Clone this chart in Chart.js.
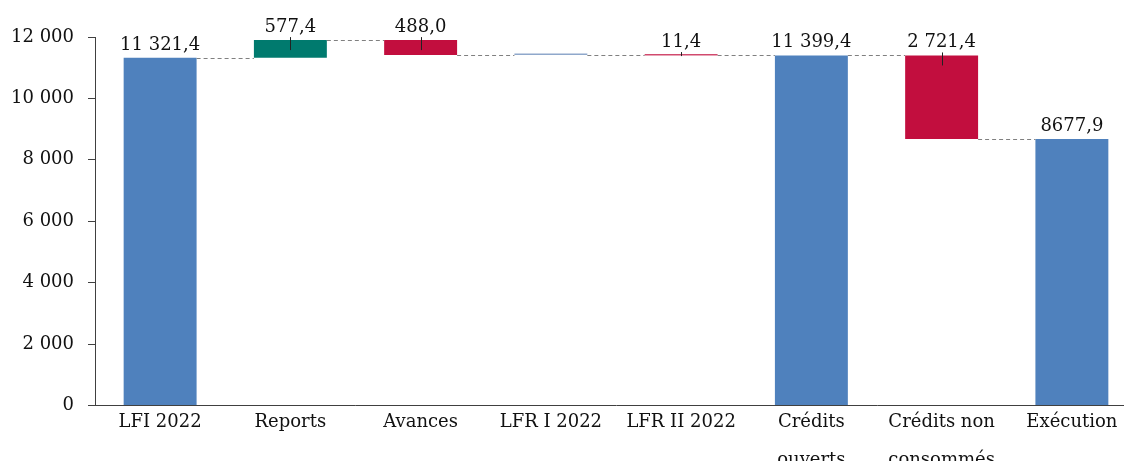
<!DOCTYPE html>
<html>
<head>
<meta charset="utf-8">
<script src="https://cdn.jsdelivr.net/npm/chart.js@4"></script>
<style>
  html, body { margin: 0; padding: 0; background: #fff; overflow: hidden; }
  #wrap { width: 1140px; height: 482px; position: relative; }
</style>
</head>
<body>
<div id="wrap"><canvas id="waterfall"></canvas></div>
<script>
// Chart data
const categories = ["LFI 2022", "Reports", "Avances", "LFR I 2022", "LFR II 2022", ["Crédits", "ouverts"], ["Crédits non", "consommés"], "Exécution"];
const amounts = [11321.4, 577.4, -488.0, 0, -11.4, 11399.4, -2721.4, 8677.9];
const isTotal = [true, false, false, false, false, true, false, true];
const valueLabels = ["11 321,4", "577,4", "488,0", "", "11,4", "11 399,4", "2 721,4", "8677,9"];
const yTicks = [0, 2000, 4000, 6000, 8000, 10000, 12000];

const BLUE = "#4F81BD";
const GREEN = "#007A6E";
const RED = "#C20E3E";

// build floating ranges from running total
let running = 0;
const ranges = amounts.map((v, i) => {
    if (isTotal[i]) {
        running = v;
        return [0, v];
    }
    const start = running;
    running = running + v;
    return [start, running];
});
const colors = amounts.map((v, i) => {
    if (isTotal[i]) return BLUE;
    if (v > 0) return GREEN;
    if (v < 0) return "rgba(194,14,62,0.75)";
    return "#8FA8CB";
});
colors[2] = RED;
colors[6] = RED;

const FONT = "'DejaVu Serif', 'Liberation Serif', serif";

// dashed connectors, small tick marks and value labels
const waterfallDecor = {
    id: "waterfallDecor",
    afterDatasetsDraw(chart) {
        const ctx = chart.ctx;
        const meta = chart.getDatasetMeta(0);
        const y = chart.scales.y;
        ctx.save();
        // connectors
        ctx.strokeStyle = "#808080";
        ctx.lineWidth = 1;
        ctx.setLineDash([4, 3]);
        for (let i = 0; i < meta.data.length - 1; i++) {
            const a = meta.data[i];
            const b = meta.data[i + 1];
            const py = Math.round(y.getPixelForValue(ranges[i][1])) + 0.5;
            ctx.beginPath();
            ctx.moveTo(a.x + a.width / 2, py);
            ctx.lineTo(b.x - b.width / 2, py);
            ctx.stroke();
        }
        ctx.setLineDash([]);
        // small ticks on floating bars
        ctx.strokeStyle = "#222";
        meta.data.forEach((bar, i) => {
            if (isTotal[i] || amounts[i] === 0) return;
            const top = y.getPixelForValue(Math.max(ranges[i][0], ranges[i][1]));
            const len = Math.abs(amounts[i]) > 100 ? 10 : 1;
            ctx.beginPath();
            ctx.moveTo(Math.round(bar.x) + 0.5, top - 3);
            ctx.lineTo(Math.round(bar.x) + 0.5, top + len);
            ctx.stroke();
        });
        // labels
        ctx.fillStyle = "#111";
        ctx.font = "18px " + FONT;
        ctx.textAlign = "center";
        ctx.textBaseline = "alphabetic";
        meta.data.forEach((bar, i) => {
            if (!valueLabels[i]) return;
            const top = y.getPixelForValue(Math.max(ranges[i][0], ranges[i][1]));
            ctx.fillText(valueLabels[i], bar.x, top - 8);
        });
        ctx.restore();
    }
};

new Chart(document.getElementById("waterfall").getContext("2d"), {
    type: "bar",
    data: {
        labels: categories,
        datasets: [{
            data: ranges,
            backgroundColor: colors,
            borderWidth: 0,
            minBarLength: 1.5,
            categoryPercentage: 1,
            barPercentage: 0.56
        }]
    },
    options: {
        responsive: true,
        maintainAspectRatio: false,
        animation: false,
        layout: { padding: { left: 11, right: 3, top: 37, bottom: 5 } },
        plugins: {
            legend: { display: false },
            tooltip: { enabled: false }
        },
        scales: {
            x: {
                grid: { display: false, drawTicks: false },
                border: { display: true, color: "#404040" },
                ticks: {
                    color: "#111",
                    font: { family: FONT, size: 18, lineHeight: 2.1 },
                    padding: -2,
                    maxRotation: 0,
                    autoSkip: false
                }
            },
            y: {
                min: 0,
                max: 12000,
                afterBuildTicks(axis) {
                    axis.ticks = yTicks.map(v => ({ value: v }));
                },
                afterFit(axis) {
                    axis.width = 84;
                },
                grid: { display: true, drawOnChartArea: false, drawTicks: true, tickLength: 7, color: "#404040" },
                border: { display: true, color: "#404040" },
                ticks: {
                    color: "#111",
                    padding: 14,
                    font: { family: FONT, size: 18 },
                    callback: v => v === 0 ? "0" : Math.floor(v / 1000) + " " + String(v % 1000).padStart(3, "0")
                }
            }
        }
    },
    plugins: [waterfallDecor]
});
</script>
</body>
</html>
